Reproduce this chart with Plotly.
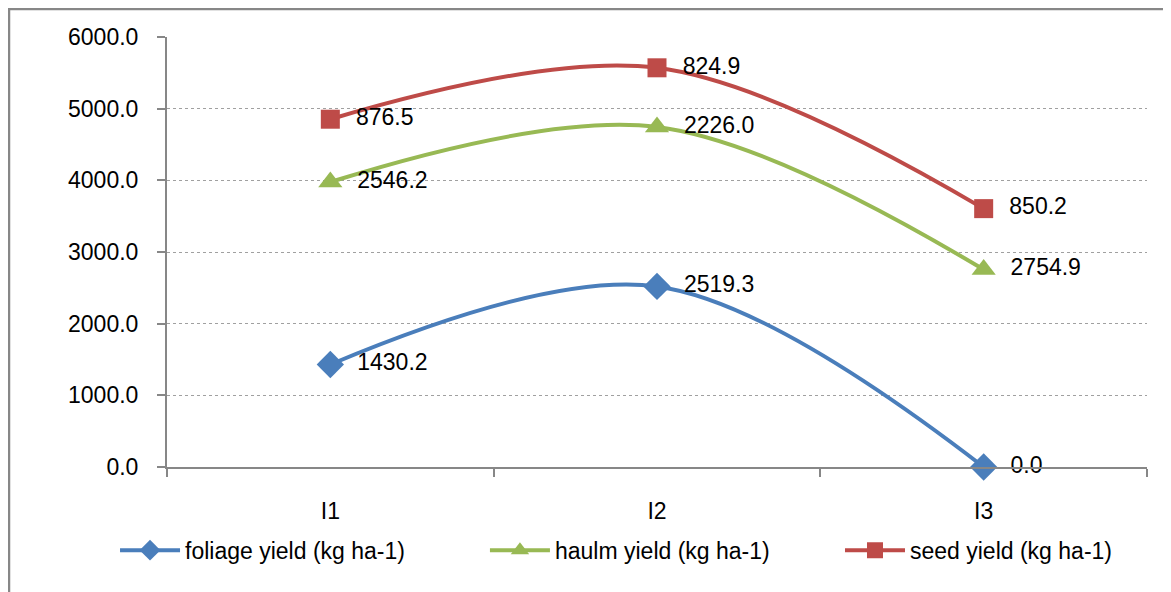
import numpy as np
import plotly.graph_objects as go

categories = ["I1", "I2", "I3"]
foliage = [1430.2, 2519.3, 0.0]
haulm = [2546.2, 2226.0, 2754.9]
seed = [876.5, 824.9, 850.2]
names = ["foliage yield (kg ha-1)", "haulm yield (kg ha-1)", "seed yield (kg ha-1)"]
colors = ["#4A7EBB", "#98B954", "#BE4B48"]
symbols = ["diamond", "triangle-up", "square"]
y_ticks = [0, 1000, 2000, 3000, 4000, 5000, 6000]

series = [foliage, haulm, seed]
cum = np.cumsum(np.array(series), axis=0)

FONT = "Liberation Sans"
L, T, PW, PH = 159, 29, 980, 430
legend_ids = ["legend", "legend2", "legend3"]
legend_x = [0.0914, 0.4073, 0.7105]

fig = go.Figure()
for i, s in enumerate(series):
    fig.add_trace(go.Scatter(
        x=categories, y=cum[i], name=names[i], mode="lines+markers+text",
        line=dict(color=colors[i], width=4, shape="spline", smoothing=1),
        marker=dict(symbol=symbols[i], size=21 if symbols[i] != "square" else 19, color=colors[i]),
        text=[f"  {v:.1f}" for v in s], textposition="middle right",
        textfont=dict(family=FONT, size=23, color="black"),
        cliponaxis=False, legend=legend_ids[i],
    ))

legend_common = dict(orientation="h", xref="container", yref="container",
                     y=0.084, xanchor="left", yanchor="middle",
                     font=dict(family=FONT, size=23), itemwidth=60,
                     bgcolor="rgba(0,0,0,0)")
fig.update_layout(
    width=1171, height=592,
    margin=dict(l=L, r=1171 - L - PW, t=T, b=592 - T - PH, autoexpand=False),
    paper_bgcolor="white", plot_bgcolor="white",
    font=dict(family=FONT, size=23, color="black"),
    showlegend=True,
    legend=dict(x=legend_x[0], **legend_common),
    legend2=dict(x=legend_x[1], **legend_common),
    legend3=dict(x=legend_x[2], **legend_common),
    xaxis=dict(type="category", range=[-0.5, 2.5], showgrid=False,
               showline=True, linecolor="#878787", linewidth=2,
               ticks="outside", tickson="boundaries", ticklen=8, tickcolor="#878787",
               tickwidth=2, ticklabelstandoff=22),
    yaxis=dict(range=[0, 6000], tickvals=y_ticks,
               ticktext=[f"{v:.1f}" for v in y_ticks],
               showgrid=True, gridcolor="#A0A0A0", griddash="dot", gridwidth=1,
               showline=True, linecolor="#878787", linewidth=2,
               ticks="outside", ticklen=8, tickcolor="#878787", tickwidth=2,
               ticklabelstandoff=14, zeroline=False),
)
fig.add_shape(type="rect", xref="paper", yref="paper",
              x0=-(L - 1) / PW, y0=-0.5, x1=1.3, y1=1 + (T - 1) / PH,
              line=dict(color="#878787", width=2.5), layer="below")

fig.write_html("out.html")
